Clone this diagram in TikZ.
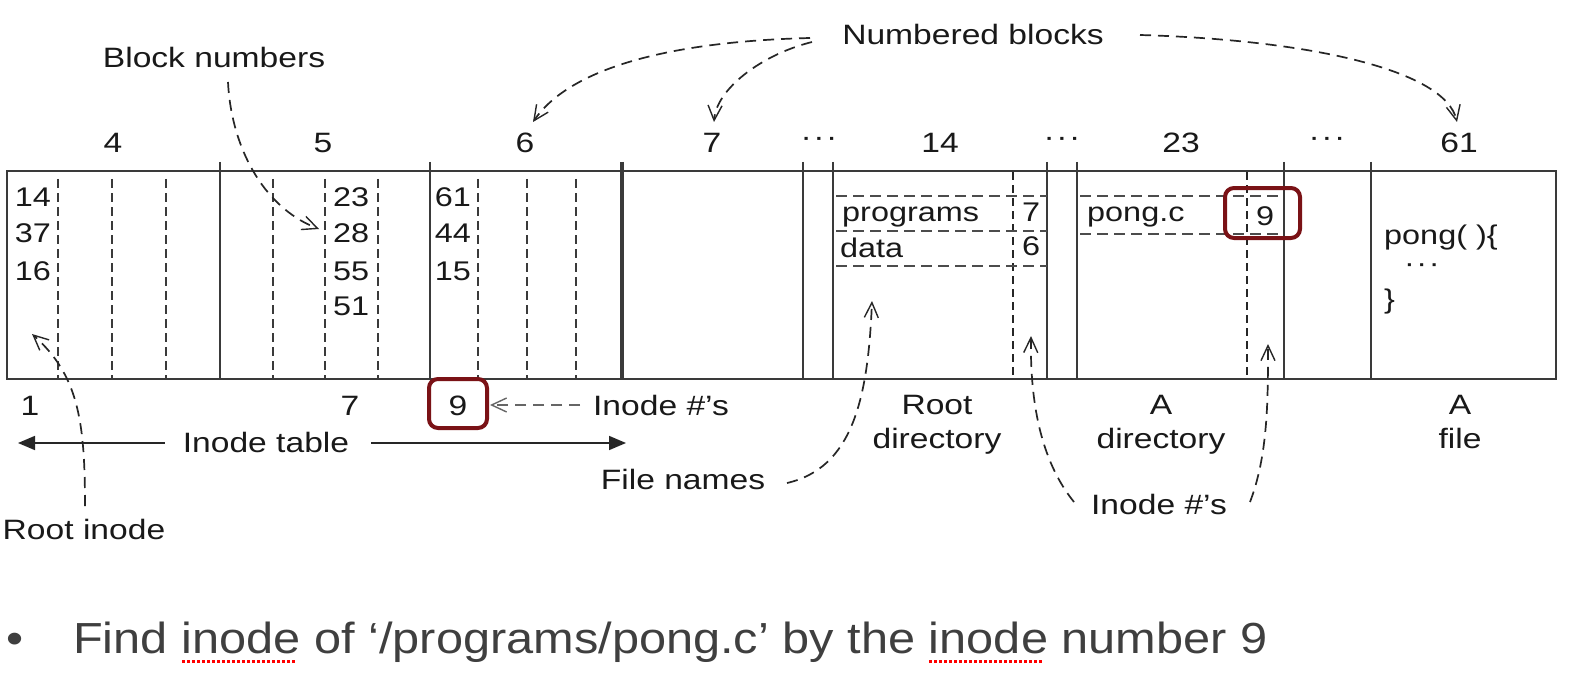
\documentclass[tikz,border=0pt]{standalone}
\usepackage{fontspec}
\setmainfont{Liberation Sans}[FakeStretch=1.2]
\newfontfamily\bulletfont{Liberation Sans}[FakeStretch=1.12]
\usetikzlibrary{arrows.meta}
\definecolor{boxred}{HTML}{7A1216}
\definecolor{linegray}{HTML}{3A3A3A}
\definecolor{textgray}{HTML}{3F3F3F}
\newsavebox\spellbox
\newcommand\spellmark[1]{\sbox\spellbox{#1}\rlap{\hbox to \wd\spellbox{\color{red}\leaders\hbox{\rule[-10pt]{3pt}{3pt}\kern2pt}\hfill}}\usebox\spellbox}
\newcommand\threedots{·\kern1.5pt·\kern1.5pt·}
\tikzset{
  solidline/.style={draw=linegray, line width=1.5pt},
  dashv/.style={draw=linegray, line width=1.6pt, dash pattern=on 9pt off 5pt},
  dashvb/.style={draw=black!85, line width=2.2pt, dash pattern=on 8pt off 5pt},
  dashh/.style={draw=black!70, line width=1.7pt, dash pattern=on 11pt off 6pt},
  callout/.style={draw=black!85, line width=1.7pt, dash pattern=on 11pt off 7pt,
    -{Straight Barb[length=15pt,width=14pt,line width=1.4pt]}},
  tablearrow/.style={draw=black!85, line width=1.6pt, -{Triangle[length=17pt,width=14pt]}},
  lbl/.style={font=\fontsize{28}{34}\selectfont, inner sep=0pt, text=black!90},
  cell/.style={font=\fontsize{27}{33}\selectfont, inner sep=0pt, text=black!90},
  redbox/.style={draw=boxred, line width=4pt, rounded corners=9pt},
}
\begin{document}
\begin{tikzpicture}[x=1pt,y=-1pt]
\useasboundingbox[fill=white] (0,0) rectangle (1572,682);

% ---- the band of blocks ----
\draw[solidline] (7,171) rectangle (1556,379);
\foreach \x in {220,430,803,833,1047,1077,1284,1371}
  \draw[solidline] (\x,162) -- (\x,379);
\draw[draw=linegray, line width=3.5pt] (622,162) -- (622,379);
\foreach \x in {58,112,166,273,325,378,478,527,576}
  \draw[dashv] (\x,179) -- (\x,379);
% root directory block 14
\draw[dashvb] (1013,172) -- (1013,379);
\foreach \y in {196,231,266}
  \draw[dashh] (836,\y) -- (1047,\y);
% A directory block 23
\draw[dashvb] (1247,172) -- (1247,379);
\foreach \y in {196,234}
  \draw[dashh] (1080,\y) -- (1284,\y);

% ---- block numbers above ----
\node[lbl, anchor=base] (b4)  at (113,153) {4};
\node[lbl, anchor=base] (b5)  at (323,153) {5};
\node[lbl, anchor=base] (b6)  at (525,153) {6};
\node[lbl, anchor=base] (b7)  at (712,153) {7};
\node[lbl, anchor=base] (d1)  at (819,147) {\threedots};
\node[lbl, anchor=base] (b14) at (940,153) {14};
\node[lbl, anchor=base] (d2)  at (1062,147) {\threedots};
\node[lbl, anchor=base] (b23) at (1181,153) {23};
\node[lbl, anchor=base] (d3)  at (1327,147) {\threedots};
\node[lbl, anchor=base] (b61) at (1459,153) {61};

% ---- inode table contents ----
\node[cell, anchor=base east] (n14) at (51,207) {14};
\node[cell, anchor=base east] (n37) at (51,242) {37};
\node[cell, anchor=base east] (n16) at (51,280) {16};
\node[cell, anchor=base west] (n23) at (333,207) {23};
\node[cell, anchor=base west] (n28) at (333,242) {28};
\node[cell, anchor=base west] (n55) at (333,280) {55};
\node[cell, anchor=base west] (n51) at (333,315) {51};
\node[cell, anchor=base east] (n61) at (471,207) {61};
\node[cell, anchor=base east] (n44) at (471,242) {44};
\node[cell, anchor=base east] (n15) at (471,280) {15};

% ---- directory contents ----
\node[cell, anchor=base west] (programs) at (842,222) {programs};
\node[cell, anchor=base] (i7) at (1031,222) {7};
\node[cell, anchor=base west] (data) at (840,257) {data};
\node[cell, anchor=base] (i6) at (1031,255) {6};
\node[cell, anchor=base west] (pongc) at (1087,222) {pong.c};
\node[cell, anchor=base] (i9) at (1265,225) {9};
\node[cell, anchor=base west] (code1) at (1384,244) {pong( )\{};
\node[cell, anchor=base west] (code2) at (1404,272) {\threedots};
\node[cell, anchor=base west] (code3) at (1384,308) {\}};

% ---- labels below ----
\node[lbl, anchor=base] (l1) at (30,415) {1};
\node[lbl, anchor=base] (l7) at (350,415) {7};
\node[lbl, anchor=base] (l9) at (458,415) {9};
\node[lbl, anchor=base] (inodes1) at (661,415) {Inode \#’s};
\node[lbl, anchor=base] (itable) at (266,452) {Inode table};
\node[lbl, anchor=base] (fnames) at (683,489) {File names};
\node[lbl, anchor=base] (rinode) at (84,539) {Root inode};
\node[lbl, anchor=north, align=center] (rootdir) at (937,395) {Root\\directory};
\node[lbl, anchor=north, align=center] (adir) at (1161,395) {A\\directory};
\node[lbl, anchor=north, align=center] (afile) at (1460,395) {A\\file};
\node[lbl, anchor=base] (inodes2) at (1159,514) {Inode \#’s};
\node[lbl, anchor=base] (blocknums) at (214,68) {Block numbers};
\node[lbl, anchor=base] (numblocks) at (973,45) {Numbered blocks};

% ---- red highlight boxes ----
\draw[redbox] (1225,188) rectangle (1300,238);
\draw[redbox] (429,379) rectangle (487,428);

% ---- inode table span arrows ----
\coordinate (tabL) at (18,443);
\coordinate (tabR) at (626,443);
\draw[tablearrow] (itable.west |- 0,443) ++(-18,0) -- (tabL);
\draw[tablearrow] (itable.east |- 0,443) ++(22,0) -- (tabR);

% ---- callout connectors ----
\coordinate (nbA) at (810,38);
\coordinate (nbB) at (812,42);
\coordinate (nbC) at (1140,35);
\coordinate (t6) at (533,122);
\coordinate (t7) at (714,122);
\coordinate (t61) at (1457,122);
\draw[callout] (nbA) .. controls (650,42) and (565,75) .. (t6);
\draw[callout] (nbB) .. controls (760,55) and (716,90) .. (t7);
\draw[callout] (nbC) .. controls (1310,40) and (1445,70) .. (t61);

\coordinate (bnS) at (228,82);
\coordinate (t28) at (319,229);
\draw[callout] (bnS) .. controls (231,145) and (262,207) .. (t28);

\coordinate (riS) at (85,506);
\coordinate (tri) at (32,334);
\draw[callout] (riS) .. controls (85,420) and (78,375) .. (tri);

\coordinate (fnS) at (787,483);
\coordinate (tfn) at (872,301);
\draw[callout] (fnS) .. controls (852,468) and (868,400) .. (tfn);

\coordinate (inL) at (1074,502);
\coordinate (inR) at (1250,502);
\coordinate (ti7) at (1031,336);
\coordinate (ti9) at (1268,344);
\draw[callout] (inL) .. controls (1040,460) and (1030,400) .. (ti7);
\draw[callout] (inR) .. controls (1268,455) and (1268,400) .. (ti9);

\coordinate (in1S) at (580,405);
\coordinate (t9) at (490,405);
\draw[callout, draw=black!60] (in1S) -- (t9);

% ---- bullet line ----
\node[inner sep=0pt, anchor=base, text=textgray, font=\bulletfont\fontsize{43.5}{50}\selectfont] (bullet) at (15,653) {•};
\node[inner sep=0pt, anchor=base west, text=textgray, font=\bulletfont\fontsize{43.5}{50}\selectfont] (caption) at (73,653)
  {Find \spellmark{inode} of ‘/programs/pong.c’ by the \spellmark{inode} number 9};
\end{tikzpicture}
\end{document}
